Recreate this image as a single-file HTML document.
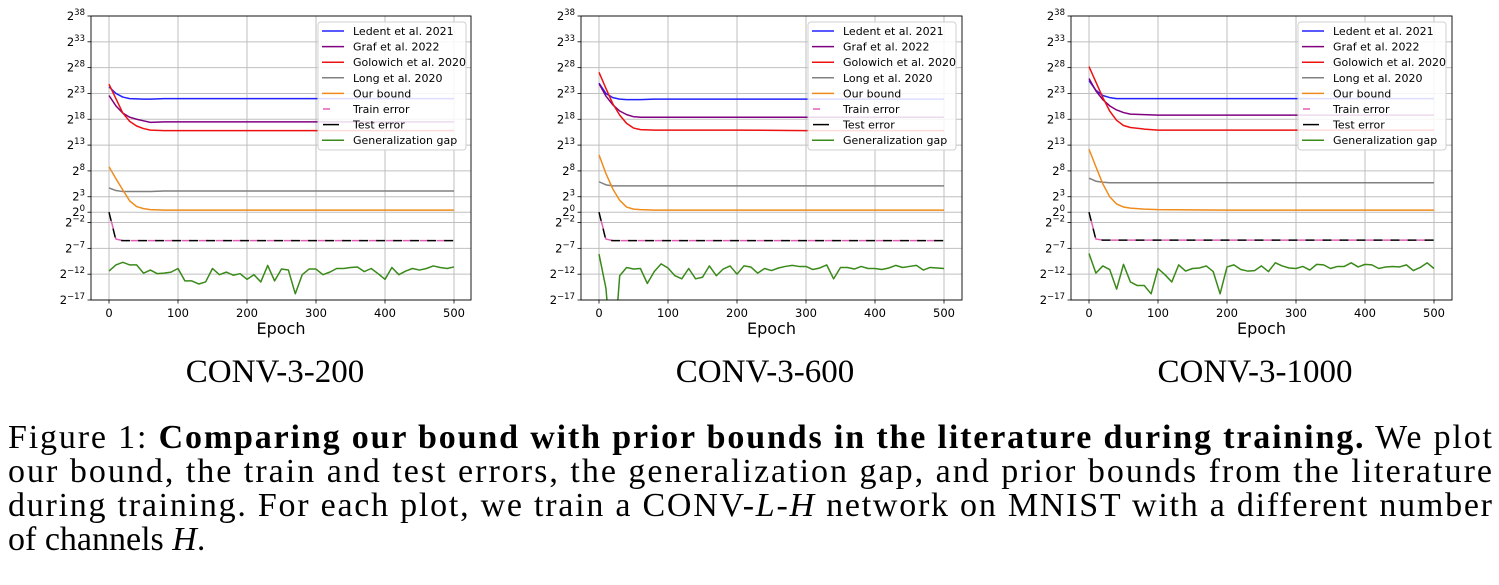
<!DOCTYPE html>
<html><head><meta charset="utf-8">
<style>
html,body{margin:0;padding:0;background:#fff;}
svg{display:block;}
</style></head>
<body>
<svg id="fig" width="1499" height="585" viewBox="0 0 1499 585" xmlns="http://www.w3.org/2000/svg">
  <g id="charts"></g>
  <text x="275" y="382" text-anchor="middle" font-family="Liberation Serif, serif" font-size="33">CONV-3-200</text>
  <text x="765" y="382" text-anchor="middle" font-family="Liberation Serif, serif" font-size="33">CONV-3-600</text>
  <text x="1255" y="382" text-anchor="middle" font-family="Liberation Serif, serif" font-size="33">CONV-3-1000</text>
  <g font-family="Liberation Serif, serif" font-size="34">
    <text x="8" y="448" textLength="1484" lengthAdjust="spacing">Figure 1: <tspan font-weight="bold">Comparing our bound with prior bounds in the literature during training.</tspan> We plot</text>
    <text x="8" y="482" textLength="1484" lengthAdjust="spacing">our bound, the train and test errors, the generalization gap, and prior bounds from the literature</text>
    <text x="8" y="516" textLength="1484" lengthAdjust="spacing">during training. For each plot, we train a CONV-<tspan font-style="italic">L</tspan>-<tspan font-style="italic">H</tspan> network on MNIST with a different number</text>
    <text x="8" y="550">of channels <tspan font-style="italic">H</tspan>.</text>
  </g>
</svg>
<script>
const epochsB = [0,10,20,30,40,50,60,80,100,200,300,400,500];
const epochsG = [0,10,20,30,40,50,60,70,80,90,100,110,120,130,140,150,160,170,180,190,200,210,220,230,240,250,260,270,280,290,300,310,320,330,340,350,360,370,380,390,400,410,420,430,440,450,460,470,480,490,500];
const yTickVals = [38,33,28,23,18,13,8,3,0,-2,-7,-12,-17];
const xTickVals = [0,100,200,300,400,500];

const ledent1 = [24.3,23.0,22.3,22.0,21.95,21.9,21.9,22.0,22.0,22.0,22.0,22.0,22.0];
const graf1   = [22.6,20.6,19.2,18.4,18.0,17.7,17.4,17.5,17.5,17.5,17.5,17.5,17.5];
const golo1   = [24.8,22.0,19.2,17.6,16.7,16.2,15.9,15.8,15.8,15.8,15.8,15.8,15.8];
const long1   = [4.7,4.2,4.0,4.0,4.0,4.0,4.0,4.1,4.1,4.1,4.1,4.1,4.1];
const our1    = [8.8,6.5,4.3,2.2,1.1,0.7,0.5,0.4,0.4,0.4,0.4,0.4,0.4];
const train1  = [0,-5.2,-5.5,-5.5,-5.5,-5.5,-5.5,-5.5,-5.5,-5.5,-5.5,-5.5,-5.5];
const test1   = [0,-5.4,-5.5,-5.5,-5.5,-5.5,-5.5,-5.5,-5.5,-5.5,-5.5,-5.5,-5.5];
const gap1 = [-11.4,-10.2,-9.7,-10.2,-10.2,-11.8,-11.2,-11.9,-11.8,-11.6,-10.9,-13.3,-13.3,-13.9,-13.5,-10.9,-12.1,-11.6,-12.2,-11.9,-13.0,-12.1,-13.5,-10.3,-13.3,-11.0,-11.2,-15.8,-12.1,-11.0,-11.0,-12.1,-11.6,-10.9,-10.9,-10.7,-10.6,-11.5,-10.9,-11.9,-13.0,-10.7,-12.1,-11.4,-10.9,-11.2,-10.9,-10.4,-10.7,-10.9,-10.6];

const ledent2 = [25.0,23.0,22.2,21.9,21.8,21.8,21.8,21.9,21.9,21.9,21.9,21.9,21.9];
const graf2   = [24.9,22.5,20.8,19.6,18.9,18.5,18.4,18.4,18.4,18.4,18.4,18.4,18.4];
const golo2   = [27.1,24.0,21.0,18.8,17.2,16.3,16.0,15.9,15.9,15.9,15.8,15.8,15.8];
const long2   = [5.9,5.3,5.1,5.1,5.1,5.1,5.1,5.1,5.1,5.1,5.1,5.1,5.1];
const our2    = [11.1,7.5,4.5,2.3,1.0,0.6,0.5,0.4,0.4,0.4,0.4,0.4,0.4];
const train2  = [0,-5.2,-5.5,-5.5,-5.5,-5.5,-5.5,-5.5,-5.5,-5.5,-5.5,-5.5,-5.5];
const test2   = [0,-5.4,-5.5,-5.5,-5.5,-5.5,-5.5,-5.5,-5.5,-5.5,-5.5,-5.5,-5.5];
const gap2 = [-8.1,-14.7,-30,-12.3,-10.7,-11.0,-10.9,-13.8,-11.5,-10.0,-10.8,-12.3,-12.9,-10.9,-12.9,-12.6,-10.4,-12.3,-11.0,-10.4,-12.0,-10.4,-10.6,-11.8,-10.9,-11.3,-10.8,-10.5,-10.3,-10.5,-10.5,-11.1,-10.8,-10.2,-12.9,-10.7,-10.7,-11.0,-10.5,-10.9,-10.9,-11.1,-10.8,-10.3,-10.7,-10.5,-10.3,-11.2,-10.7,-10.8,-10.9];

const ledent3 = [25.5,23.6,22.6,22.2,22.0,22.0,22.0,22.0,22.0,22.0,22.0,22.0,22.0];
const graf3   = [25.9,23.5,21.8,20.6,19.8,19.3,19.0,18.9,18.8,18.8,18.8,18.8,18.8];
const golo3   = [28.2,25.2,22.2,19.6,17.8,16.8,16.4,16.1,15.9,15.9,15.9,15.9,15.9];
const long3   = [6.6,6.0,5.8,5.7,5.7,5.7,5.7,5.7,5.7,5.7,5.7,5.7,5.7];
const our3    = [12.2,8.8,5.5,3.0,1.6,1.0,0.8,0.6,0.5,0.4,0.4,0.4,0.4];
const train3  = [0,-5.2,-5.4,-5.4,-5.4,-5.4,-5.4,-5.4,-5.4,-5.4,-5.4,-5.4,-5.4];
const test3   = [0,-5.3,-5.4,-5.4,-5.4,-5.4,-5.4,-5.4,-5.4,-5.4,-5.4,-5.4,-5.4];
const gap3 = [-8.0,-11.8,-10.4,-11.1,-14.9,-10.1,-13.5,-14.2,-14.2,-15.8,-10.9,-12.1,-13.5,-10.2,-11.4,-10.9,-10.8,-10.4,-11.5,-15.8,-10.6,-10.2,-11.1,-11.4,-11.3,-10.4,-11.5,-9.8,-10.4,-10.8,-10.9,-10.5,-11.2,-10.1,-10.2,-10.9,-10.5,-10.5,-9.8,-10.6,-10.1,-10.2,-10.9,-10.6,-10.5,-10.6,-10.2,-11.3,-10.7,-9.8,-10.9];

const legendLabels = ["Ledent et al. 2021","Graf et al. 2022","Golowich et al. 2020","Long et al. 2020","Our bound","Train error","Test error","Generalization gap"];
const seriesColors = ["#2222ff","#800080","#ee1111","#808080","#f08c1c","#e35fb8","#000000","#3a8a1a"];

const NS = "http://www.w3.org/2000/svg";
const root = document.getElementById('charts');
function mk(tag, attrs, parent){
  const e = document.createElementNS(NS, tag);
  for (const k in attrs) e.setAttribute(k, attrs[k]);
  parent.appendChild(e);
  return e;
}
const panels = [
  {id:'conv-3-200', left:91, right:471, x0:109, x500:454, legL:318, series:[ledent1,graf1,golo1,long1,our1,train1,test1], gap:gap1},
  {id:'conv-3-600', left:581, right:962, x0:599, x500:944, legL:808, series:[ledent2,graf2,golo2,long2,our2,train2,test2], gap:gap2},
  {id:'conv-3-1000', left:1071, right:1452, x0:1089, x500:1434, legL:1298, series:[ledent3,graf3,golo3,long3,our3,train3,test3], gap:gap3}
];
const TOP = 16, BOT = 300, YMIN = -17, YMAX = 38;
const seriesNames = ['ledent-line','graf-line','golowich-line','long-line','our-bound-line','train-error-line','test-error-line'];

panels.forEach((p, pi) => {
  const xs = e => p.x0 + (e/500)*(p.x500 - p.x0);
  const ys = v => BOT - (v - YMIN)/(YMAX - YMIN)*(BOT - TOP);
  const g = mk('g', {}, root);
  
  
  const cid = 'clip' + pi;
  const defs = mk('defs', {}, g);
  const cp = mk('clipPath', {id: cid}, defs);
  mk('rect', {x:p.left, y:TOP, width:p.right-p.left, height:BOT-TOP}, cp);
  const grid = mk('g', {stroke:'#b0b0b0', 'stroke-width':'1', opacity:'0.8'}, g);
  
  
  yTickVals.forEach(v => { mk('line', {x1:p.left, x2:p.right, y1:ys(v), y2:ys(v)}, grid); });
  xTickVals.forEach(v => { mk('line', {x1:xs(v), x2:xs(v), y1:TOP, y2:BOT}, grid); });
  const yax = mk('g', {'font-family':'DejaVu Sans, sans-serif', fill:'#000'}, g);
  
  
  yTickVals.forEach(v => {
    const y = ys(v);
    mk('line', {x1:p.left-3.5, x2:p.left, y1:y, y2:y, stroke:'#000', 'stroke-width':'0.8'}, yax);
    const t = mk('text', {x:p.left-6, y:y+4, 'text-anchor':'end', 'font-size':'11.5'}, yax);
    
    
    const b = document.createElementNS(NS, 'tspan'); b.textContent = '2'; t.appendChild(b);
    const s = document.createElementNS(NS, 'tspan');
    s.setAttribute('dy', '-5'); s.setAttribute('font-size', '8.5');
    s.textContent = (v < 0 ? '\u2212' + (-v) : String(v)); t.appendChild(s);
  });
  const xax = mk('g', {'font-family':'DejaVu Sans, sans-serif', fill:'#000'}, g);
  
  
  xTickVals.forEach(v => {
    mk('line', {x1:xs(v), x2:xs(v), y1:BOT, y2:BOT+3.5, stroke:'#000', 'stroke-width':'0.8'}, xax);
    const t = mk('text', {x:xs(v), y:BOT+17, 'text-anchor':'middle', 'font-size':'11.5'}, xax);
    
    
    t.textContent = String(v);
  });
  const xt = mk('text', {x:(p.left+p.right)/2, y:334, 'text-anchor':'middle', 'font-size':'16', 'font-family':'DejaVu Sans, sans-serif'}, g);
  
  
  xt.textContent = 'Epoch';
  const sg = mk('g', {'clip-path':'url(#' + cid + ')', fill:'none', 'stroke-width':'1.5', 'stroke-linejoin':'round'}, g);
  
  
  p.series.forEach((vals, si) => {
    const d = vals.map((v, i) => (i ? 'L' : 'M') + xs(epochsB[i]).toFixed(2) + ',' + ys(v).toFixed(2)).join('');
    const attrs = {d:d, stroke:seriesColors[si]};
    if (si === 5) { attrs['stroke-dasharray'] = '9,8'; attrs['stroke-dashoffset'] = '-9'; }
    if (si === 6) { attrs['stroke-dasharray'] = '9,8'; }
    const path = mk('path', attrs, sg);
    
    
  });
  const gd = p.gap.map((v, i) => (i ? 'L' : 'M') + xs(epochsG[i]).toFixed(2) + ',' + ys(v).toFixed(2)).join('');
  const gp = mk('path', {d:gd, stroke:seriesColors[7]}, sg);
  
  
  const sp = mk('rect', {x:p.left, y:TOP, width:p.right-p.left, height:BOT-TOP, fill:'none', stroke:'#000', 'stroke-width':'0.9'}, g);
  
  
  const lg = mk('g', {'font-family':'DejaVu Sans, sans-serif', 'font-size':'11'}, g);
  
  
  mk('rect', {x:p.legL, y:22, width:148, height:128, rx:3, fill:'#fff', 'fill-opacity':'0.85', stroke:'#d0d0d0', 'stroke-width':'1'}, lg);
  legendLabels.forEach((lab, li) => {
    const y = 31 + li*15.6;
    const entry = mk('g', {}, lg);
    
    
    const la = {x1:p.legL+4, x2:p.legL+26, y1:y, y2:y, stroke:seriesColors[li], 'stroke-width':'1.5'};
    if (li === 5) { la.x1 = p.legL+5; la.x2 = p.legL+12; }
    if (li === 6) { la.x1 = p.legL+5; la.x2 = p.legL+21; }
    mk('line', la, entry);
    const t = mk('text', {x:p.legL+35, y:y+4}, entry);
    t.textContent = lab;
  });
});
</script>
</body></html>
